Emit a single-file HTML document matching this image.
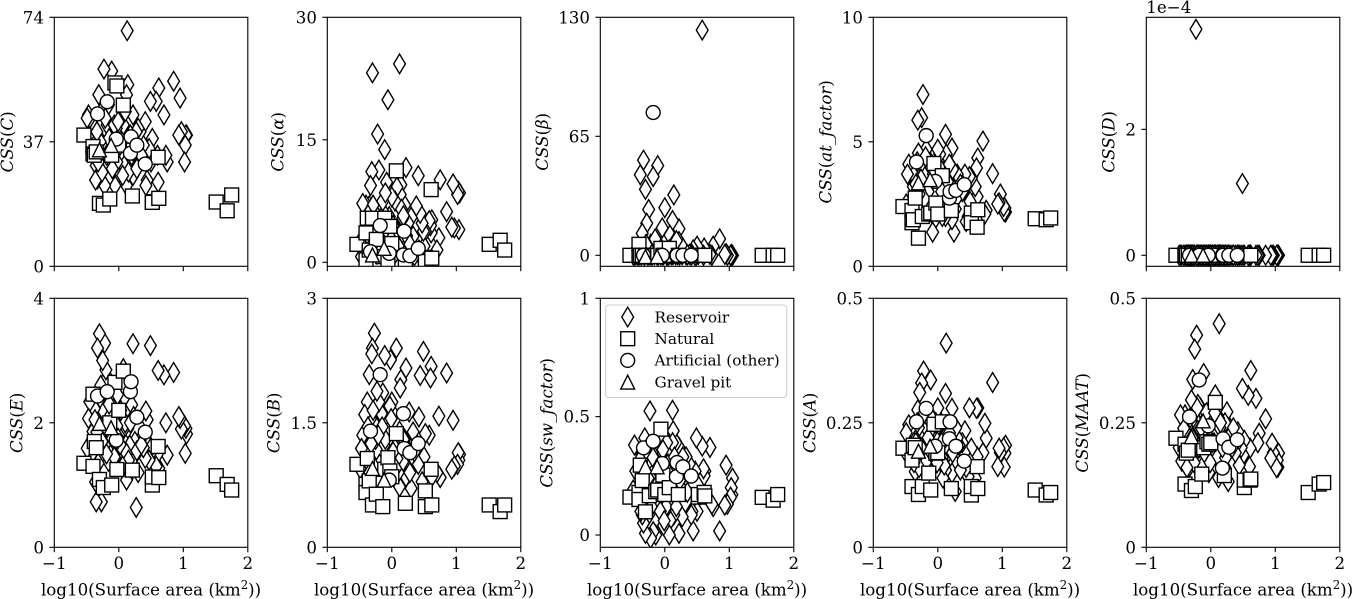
<!DOCTYPE html>
<html>
<head>
<meta charset="utf-8">
<title>CSS vs surface area</title>
<style>
html,body{margin:0;padding:0;background:#fff;width:1353px;height:599px;overflow:hidden}
svg{display:block}
text{font-family:"DejaVu Serif","Liberation Serif",serif;fill:#000}
</style>
</head>
<body>
<svg id="figure" width="1353" height="599" viewBox="0 0 1353 599" xmlns="http://www.w3.org/2000/svg"></svg>
<script>
// ---- shared x values (log10 surface area) ----
const reservoirX = [1.05,1.04,1.03,1.02,0.97,0.95,0.93,0.85,0.75,0.73,0.70,0.62,0.61,0.60,0.58,0.52,0.50,0.49,0.47,0.44,0.42,0.41,0.38,0.33,0.30,0.27,0.25,0.22,0.22,0.20,0.17,0.14,0.13,0.12,0.12,0.08,0.07,0.05,0.03,0.00,-0.02,-0.04,-0.06,-0.08,-0.11,-0.12,-0.14,-0.16,-0.18,-0.20,-0.22,-0.23,-0.25,-0.27,-0.28,-0.30,-0.31,-0.33,-0.35,-0.36,-0.38,-0.40,-0.42,-0.45,-0.47,-0.49,0.15,0.10,0.02,-0.03,-0.07,-0.10,-0.15,-0.19,-0.21,-0.26,-0.29,-0.32,-0.34,-0.37,0.23,0.28,0.35,0.18,0.06,-0.01];
const naturalX = [-0.54,-0.40,-0.40,-0.38,-0.35,-0.30,-0.24,-0.14,-0.11,-0.06,-0.03,0.00,0.07,0.21,0.52,0.52,0.61,0.62,1.51,1.68,1.75];
const artificialX = [-0.33,-0.18,-0.04,0.18,0.19,0.28,0.41];
const gravelX = [-0.30,-0.12];

// ---- reservoir y values per panel ----
const reservoirC = [39,39,36,31,40,50,39,55,31,33,45,53,25,33,49,38,31,49,35,25.6,24,43,36,40,41,40,30,45,27,33,37,54,70,51,24,30,42,37,44,33,27,41,24,38,58,34,27,48,42,36,24,58.6,30,46,33,38,51,26,30,25.6,36,42,34,44,45,44,28,46,36,31,42,29,38,33,44,28,37,31,40,35,34,29,33,39,27,43];
const reservoirAlpha = [8.5,4.0,8.7,8.3,4.2,9.6,4.3,6.2,10.1,3.0,1.5,5.2,3.6,4.5,5.1,3.8,2,3.8,4.8,6,1.5,10.6,6.9,3.2,5.5,1.5,4.8,11.6,2.5,7,5.4,9.5,8.3,3,24.3,9.2,4,7.5,2,8,1,5.6,19.9,9.8,13.8,6,7.5,3.2,3,11.3,15.7,1,5.6,6.2,2,23.2,11.1,9.4,6.9,4,0.5,7,3,7.2,0.7,2.5,6.5,2,4.5,1.2,3.5,8.5,2.5,5,1.5,3.8,7,1.8,4.6,5.8,3.2,2.2,0.8,5.7,1.2,2.8];
const reservoirBeta = [0,0,0.5,0,0,1,0.5,9,5,0,0.5,2,4,0,123,0.5,5,0.2,0,3,0.5,0,0.5,0.3,2,0.3,3,14.5,7.5,0.3,0.3,33,0.5,19,0.5,11,3,0.2,0.2,26,0.5,15,0.2,5,49,0.2,3,0.4,43,0.2,6,0.1,25,0.3,17.5,36,0.2,52,12,0.2,44,0.1,0.2,0.3,0.1,0.2,7,0.3,2,0.2,4,0.1,9,0.3,1,0.2,6,0.1,2,0.3,0.2,4,0.3,8,0.2,1.5];
const reservoirAt = [2.18,2.34,2.2,2.4,2.9,2.55,2.5,3.72,2.25,2.1,5.03,4.35,2.8,3.95,3.2,3.55,2.6,3.6,2.0,1.8,3.7,3.1,3.0,3.5,3.7,2.3,1.37,4.75,1.87,2.7,4.15,2.9,4.5,5.3,2,3.3,2,2.4,4.5,4.7,3.1,1.9,3.6,1.37,2.8,4.2,3.2,2.3,4.7,3.6,2.6,6.9,5.97,3.2,2.4,4.55,5.87,3.4,1.9,3.8,3.2,3.8,2.6,4.1,3.7,2.5,3.4,2.6,4.0,2.9,3.7,2.4,3.0,4.4,2.7,3.5,2.9,4.2,3.3,2.7,3.9,2.7,3.3,4.1,3.0,2.2];
const reservoirD = [0,0,0,0,0,0,0,0,0,0,0,0,0,0,0,0,0,1.14,0,0,0,0,0,0,0,0,0,0,0,0,0,0,0,0,0,0,0,0,0,0,0,0,0,0,0,0,0,0,0,0,0,3.59,0,0,0,0,0,0,0,0,0,0,0,0,0,0,0,0,0,0,0,0,0,0,0,0,0,0,0,0,0,0,0,0,0,0];
const reservoirE = [1.82,1.91,1.51,1.95,1.9,2.07,2.1,2.81,1.48,2.0,2.77,1.27,2.84,1.5,1.3,1.56,1.6,3.24,1.4,2.05,2.19,1.43,1.6,1.72,1.2,0.64,1.7,3.27,1.43,2.29,1.64,1.91,1.11,1.51,1.08,1.91,2.87,1.3,2.2,1.8,2.45,1.54,1.3,2.23,1.8,1.5,2.1,1.38,2.73,2.85,3.28,1.9,3.0,0.73,2.6,3.43,2.0,3.2,0.73,1.05,2.23,1.86,1.5,2.34,2.07,1.59,1.4,2.0,1.65,1.95,1.45,1.75,2.3,1.5,1.95,1.7,2.4,1.35,1.85,2.05,2.1,1.55,1.65,2.0,1.3,1.75];
const reservoirB = [1.12,1.05,1.14,1.0,0.98,1.53,0.94,2.1,0.84,1.58,0.9,0.85,2.18,2.04,1.35,1.37,1.09,2.36,0.79,2.07,1.57,1.0,1.25,1.39,0.71,1.63,0.95,2.16,0.85,1.3,1.03,2.02,1.92,0.73,1.4,1.07,2.4,1.2,1.6,1.75,2.26,1.0,1.39,1.1,2.31,1.23,1.86,1.61,1.0,1.75,1.15,1.88,1.3,2.58,1.5,2.4,2.33,1.55,2.08,1.2,1.75,0.81,1.6,1.35,1.19,0.95,1.3,0.9,1.15,1.7,0.85,1.3,1.45,1.0,1.35,0.95,1.65,1.25,0.9,1.45,1.2,0.9,1.15,1.3,0.95,1.55];
const reservoirSw = [0.24,0.17,0.2,0.16,0.13,0.295,0.126,0.017,0.12,0.13,0.37,0.27,0.25,0.28,0.375,0.16,0.1,0.41,0.27,0.017,0.1,0.085,0.3,0.33,0.26,0.077,0.2,0.37,0.007,0.3,0.39,0.085,0.44,0.39,0.527,0.063,0,0.3,0.39,0.1,0.04,0.22,0.34,0.13,0.3,0.155,0,0.25,0.014,0.35,-0.014,0.524,0.085,0.2,0.3,0.007,0.41,0.05,0.085,0.34,0.32,0.2,0.28,0.27,0.38,0.19,0.33,0.2,0.12,0.36,0.1,0.27,0.2,0.33,0.12,0.24,0.36,0.15,0.27,0.1,0.23,0.33,0.18,0.12,0.26,0.06];
const reservoirA = [0.205,0.189,0.161,0.2,0.19,0.199,0.162,0.331,0.219,0.249,0.19,0.28,0.182,0.279,0.139,0.199,0.17,0.28,0.142,0.16,0.234,0.19,0.21,0.205,0.22,0.112,0.172,0.279,0.149,0.2,0.192,0.24,0.41,0.309,0.155,0.139,0.18,0.25,0.21,0.28,0.17,0.219,0.24,0.19,0.336,0.165,0.23,0.2,0.18,0.232,0.354,0.21,0.33,0.22,0.311,0.24,0.276,0.19,0.152,0.22,0.212,0.18,0.239,0.246,0.185,0.23,0.23,0.165,0.2,0.25,0.18,0.26,0.22,0.17,0.27,0.2,0.16,0.25,0.21,0.17,0.19,0.24,0.155,0.23,0.21,0.17];
const reservoirMaat = [0.189,0.161,0.175,0.16,0.19,0.209,0.179,0.258,0.229,0.21,0.299,0.355,0.199,0.162,0.305,0.215,0.185,0.319,0.2,0.165,0.232,0.21,0.19,0.2,0.239,0.132,0.272,0.25,0.16,0.22,0.179,0.24,0.449,0.259,0.14,0.192,0.306,0.21,0.18,0.192,0.276,0.17,0.24,0.26,0.349,0.165,0.226,0.28,0.2,0.287,0.426,0.24,0.398,0.22,0.337,0.296,0.252,0.162,0.2,0.24,0.23,0.266,0.239,0.173,0.266,0.2,0.25,0.18,0.21,0.15,0.27,0.19,0.24,0.2,0.28,0.17,0.22,0.26,0.2,0.16,0.18,0.22,0.24,0.2,0.27,0.17];

// ---- natural y values per panel ----
const naturalC = [39,35.6,33.4,33,34,18.7,18.2,20,33,54.5,53.6,36,47.9,20.9,19.2,19,32.4,20.2,19.1,16.5,21.2];
const naturalAlpha = [2.2,3.6,0.3,5.4,1.5,5.4,2.8,0.7,5.4,0.2,4.4,2.3,11.2,0.3,0.6,0.1,8.9,0.5,2.2,2.7,1.5];
const naturalBeta = [0,6,0,0,0,0,0,0,0,3.8,0,0,3.8,0,0,0,0,0,0,0,0];
const naturalAt = [2.4,2.24,1.75,1.87,2.74,1.13,2,2.1,2.14,4.13,2.54,2.1,3.64,2.24,2.14,1.75,1.57,2.27,1.91,1.87,1.94];
const naturalD = [0,0,0,0,0,0,0,0,0,0,0,0,0,0,0,0,0,0,0,0,0];
const naturalE = [1.35,2.46,1.3,1.7,1.6,1.09,0.96,2.0,1.0,2.65,1.25,2.2,2.83,1.24,1.0,1.13,1.62,1.12,1.15,1.01,0.92];
const naturalB = [1.0,0.76,0.66,1.07,0.8,0.51,0.64,0.49,0.94,1.08,0.92,0.85,1.37,0.53,0.49,0.68,0.94,0.51,0.51,0.43,0.51];
const naturalSw = [0.16,0.18,0.15,0.295,0.23,0.098,0.166,0.183,0.19,0.447,0.253,0.171,0.2,0.171,0.16,0.171,0.18,0.165,0.159,0.147,0.171];
const naturalA = [0.199,0.175,0.122,0.205,0.2,0.106,0.122,0.149,0.115,0.247,0.189,0.19,0.252,0.118,0.105,0.122,0.162,0.118,0.115,0.105,0.11];
const naturalMaat = [0.219,0.207,0.127,0.189,0.195,0.114,0.122,0.147,0.2,0.212,0.207,0.21,0.291,0.144,0.12,0.135,0.135,0.137,0.11,0.127,0.13];

// ---- artificial (other) y values per panel ----
const artificialC = [45.3,48.9,37.8,33.6,38.5,36,30.4];
const artificialAlpha = [1.3,4.5,1.1,0.9,3.8,0.8,1.7];
const artificialBeta = [0,78,0,0,0,0,0];
const artificialAt = [4.19,5.25,3.41,2.74,3.0,3.05,3.28];
const artificialD = [0,0,0,0,0,0,0];
const artificialE = [2.43,2.5,1.72,2.5,2.66,2.09,1.85];
const artificialB = [1.4,2.08,0.81,1.61,1.19,1.14,1.25];
const artificialSw = [0.368,0.396,0.302,0.246,0.306,0.288,0.249];
const artificialA = [0.252,0.279,0.203,0.218,0.252,0.203,0.173];
const artificialMaat = [0.262,0.336,0.244,0.159,0.218,0.201,0.216];

// ---- gravel pit y values per panel ----
const gravelC = [34.6,35.9];
const gravelAlpha = [0.9,1.7];
const gravelBeta = [-0.7,-0.7];
const gravelAt = [3.35,3.48];
const gravelD = [0,0];
const gravelE = [1.99,1.92];
const gravelB = [0.95,0.81];
const gravelSw = [0.288,0.288];
const gravelA = [0.193,0.203];
const gravelMaat = [0.222,0.254];

// ---- axis labels, ticks and domains ----
const panelKeys = ['c','alpha','beta','at','d','e','b','sw','a','maat'];
const yLabelSymbols = ['C','α','β','at_factor','D','E','B','sw_factor','A','MAAT'];
const xTicks = [-1,0,1,2];
const xTickLabels = ['−1','0','1','2'];
const yTickValues = [[0,37,74],[0,15,30],[0,65,130],[0,5,10],[0,2],[0,2,4],[0,1.5,3],[0,0.5,1],[0,0.25,0.5],[0,0.25,0.5]];
const yTickLabels = [['0','37','74'],['0','15','30'],['0','65','130'],['0','5','10'],['0','2'],['0','2','4'],['0','1.5','3'],['0','0.5','1'],['0','0.25','0.5'],['0','0.25','0.5']];
const yDomainMin = [0,-0.49,-6,0,-0.175,0,0,-0.052,0,0];
const yDomainMax = [74,30,130,10,3.78,4,3,1,0.5,0.5];
const legendLabels = ['Reservoir','Natural','Artificial (other)','Gravel pit'];

const reservoirSeries = [reservoirC,reservoirAlpha,reservoirBeta,reservoirAt,reservoirD,reservoirE,reservoirB,reservoirSw,reservoirA,reservoirMaat];
const naturalSeries = [naturalC,naturalAlpha,naturalBeta,naturalAt,naturalD,naturalE,naturalB,naturalSw,naturalA,naturalMaat];
const artificialSeries = [artificialC,artificialAlpha,artificialBeta,artificialAt,artificialD,artificialE,artificialB,artificialSw,artificialA,artificialMaat];
const gravelSeries = [gravelC,gravelAlpha,gravelBeta,gravelAt,gravelD,gravelE,gravelB,gravelSw,gravelA,gravelMaat];

// ---- layout (not data) ----
const colLeft = [54.3,327.3,600.3,873.3,1146.3];
const rowTop = [17.3,298.3];
const plotW = 193.5;
const plotH = 249;
const yLabelCenterX = [8,278.5,543,826.5,1109.5,17.5,274.5,547.5,810.5,1083];
const TICK_FONT = 16.67;

const NS = 'http://www.w3.org/2000/svg';
const fig = document.getElementById('figure');

function make(tag, parent) {
  const el = document.createElementNS(NS, tag);
  parent.appendChild(el);
  return el;
}
function line(parent, x1, y1, x2, y2, w) {
  const l = make('line', parent);
  l.setAttribute('x1', x1); l.setAttribute('y1', y1);
  l.setAttribute('x2', x2); l.setAttribute('y2', y2);
  l.setAttribute('stroke', '#000');
  l.setAttribute('stroke-width', w);
  return l;
}
function label(parent, x, y, str, size, anchor) {
  const t = make('text', parent);
  t.setAttribute('x', x); t.setAttribute('y', y);
  t.setAttribute('font-size', size);
  t.setAttribute('text-anchor', anchor);
  t.textContent = str;
  return t;
}
function tspan(parent, str, italic) {
  const s = make('tspan', parent);
  if (italic) s.setAttribute('font-style', 'italic');
  s.textContent = str;
  return s;
}
function marker(parent, kind, cx, cy) {
  let el;
  if (kind === 'square') {
    el = make('rect', parent);
    el.setAttribute('x', cx - 6.95); el.setAttribute('y', cy - 6.95);
    el.setAttribute('width', 13.9); el.setAttribute('height', 13.9);
  } else if (kind === 'circle') {
    el = make('circle', parent);
    el.setAttribute('cx', cx); el.setAttribute('cy', cy); el.setAttribute('r', 6.95);
  } else if (kind === 'triangle') {
    el = make('polygon', parent);
    el.setAttribute('points', cx + ',' + (cy - 6.95) + ' ' + (cx - 6.95) + ',' + (cy + 6.95) + ' ' + (cx + 6.95) + ',' + (cy + 6.95));
  } else {
    el = make('polygon', parent);
    el.setAttribute('points', cx + ',' + (cy - 9.8) + ' ' + (cx + 5.9) + ',' + cy + ' ' + cx + ',' + (cy + 9.8) + ' ' + (cx - 5.9) + ',' + cy);
  }
  el.setAttribute('fill', '#fff');
  el.setAttribute('stroke', '#000');
  el.setAttribute('stroke-width', 1.39);
  el.setAttribute('stroke-linejoin', 'miter');
  return el;
}

const defs = make('defs', fig);

function drawSeries(plot, kind, xs, ys, xScale, yScale) {
  const g = make('g', plot);
  
  
  for (let i = 0; i < ys.length; i++) {
    const m = marker(g, kind, xScale(xs[i]), yScale(ys[i]));
    
    
  }
}

panelKeys.forEach(function (key, p) {
  const row = p < 5 ? 0 : 1;
  const left = colLeft[p % 5];
  const top = rowTop[row];
  const right = left + plotW;
  const bottom = top + plotH;
  const yMin = yDomainMin[p];
  const yMax = yDomainMax[p];
  const xScale = function (v) { return left + (v + 1) / 3 * plotW; };
  const yScale = function (v) { return bottom - (v - yMin) / (yMax - yMin) * plotH; };

  const panel = make('g', fig);
  
  

  const bg = make('rect', panel);
  bg.setAttribute('x', left); bg.setAttribute('y', top);
  bg.setAttribute('width', plotW); bg.setAttribute('height', plotH);
  bg.setAttribute('fill', '#fff');
  
  

  const clip = make('clipPath', defs);
  clip.setAttribute('id', 'clip-' + key);
  const clipRect = make('rect', clip);
  clipRect.setAttribute('x', left); clipRect.setAttribute('y', top);
  clipRect.setAttribute('width', plotW); clipRect.setAttribute('height', plotH);

  const plot = make('g', panel);
  plot.setAttribute('clip-path', 'url(#clip-' + key + ')');
  
  
  drawSeries(plot, 'diamond', reservoirX, reservoirSeries[p], xScale, yScale);
  drawSeries(plot, 'square', naturalX, naturalSeries[p], xScale, yScale);
  drawSeries(plot, 'circle', artificialX, artificialSeries[p], xScale, yScale);
  drawSeries(plot, 'triangle', gravelX, gravelSeries[p], xScale, yScale);

  const frame = make('rect', panel);
  frame.setAttribute('x', left); frame.setAttribute('y', top);
  frame.setAttribute('width', plotW); frame.setAttribute('height', plotH);
  frame.setAttribute('fill', 'none');
  frame.setAttribute('stroke', '#000');
  frame.setAttribute('stroke-width', 1.11);
  
  

  xTicks.forEach(function (v, i) {
    const tick = line(panel, xScale(v), bottom, xScale(v), bottom + 4.9, 1.11);
    
    
    if (row === 1) {
      const t = label(panel, xScale(v), 569, xTickLabels[i], TICK_FONT, 'middle');
      
      
    }
  });

  yTickValues[p].forEach(function (v, i) {
    const tick = line(panel, left - 4.9, yScale(v), left, yScale(v), 1.11);
    
    
    const t = label(panel, left - 10.3, yScale(v) + 6, yTickLabels[p][i], TICK_FONT, 'end');
    
    
  });

  const yc = (top + bottom) / 2;
  const yl = make('text', panel);
  yl.setAttribute('font-size', TICK_FONT);
  yl.setAttribute('text-anchor', 'middle');
  yl.setAttribute('transform', 'translate(' + (yLabelCenterX[p] + 5) + ',' + yc + ') rotate(-90)');
  
  
  tspan(yl, 'CSS', true);
  tspan(yl, '(', false);
  tspan(yl, yLabelSymbols[p], true);
  tspan(yl, ')', false);

  if (row === 1) {
    const xl = make('text', panel);
    xl.setAttribute('x', (left + right) / 2);
    xl.setAttribute('y', 595.5);
    xl.setAttribute('font-size', TICK_FONT);
    xl.setAttribute('text-anchor', 'middle');
    
    
    tspan(xl, 'log10(Surface area (km', false);
    const sup = tspan(xl, '2', false);
    sup.setAttribute('font-size', 11.7);
    sup.setAttribute('dy', -6.5);
    const tail = tspan(xl, '))', false);
    tail.setAttribute('dy', 6.5);
  }
});

// offset text on the CSS(D) panel
const offsetText = label(fig, 1146.3, 13, '1e−4', TICK_FONT, 'start');



// legend inside the CSS(sw_factor) panel
const legend = make('g', fig);


const legendBox = make('rect', legend);
legendBox.setAttribute('x', 605.7); legendBox.setAttribute('y', 305);
legendBox.setAttribute('width', 181); legendBox.setAttribute('height', 92.5);
legendBox.setAttribute('rx', 3); legendBox.setAttribute('ry', 3);
legendBox.setAttribute('fill', '#fff');
legendBox.setAttribute('fill-opacity', 0.8);
legendBox.setAttribute('stroke', '#ccc');
legendBox.setAttribute('stroke-width', 1.1);


const legendKinds = ['diamond','square','circle','triangle'];
legendLabels.forEach(function (name, i) {
  const cy = 317 + i * 21.7;
  const m = marker(legend, legendKinds[i], 627.7, cy);
  
  
  const t = label(legend, 654.5, cy + 5.3, name, 15.28, 'start');
  
  
});
</script>
</body>
</html>
